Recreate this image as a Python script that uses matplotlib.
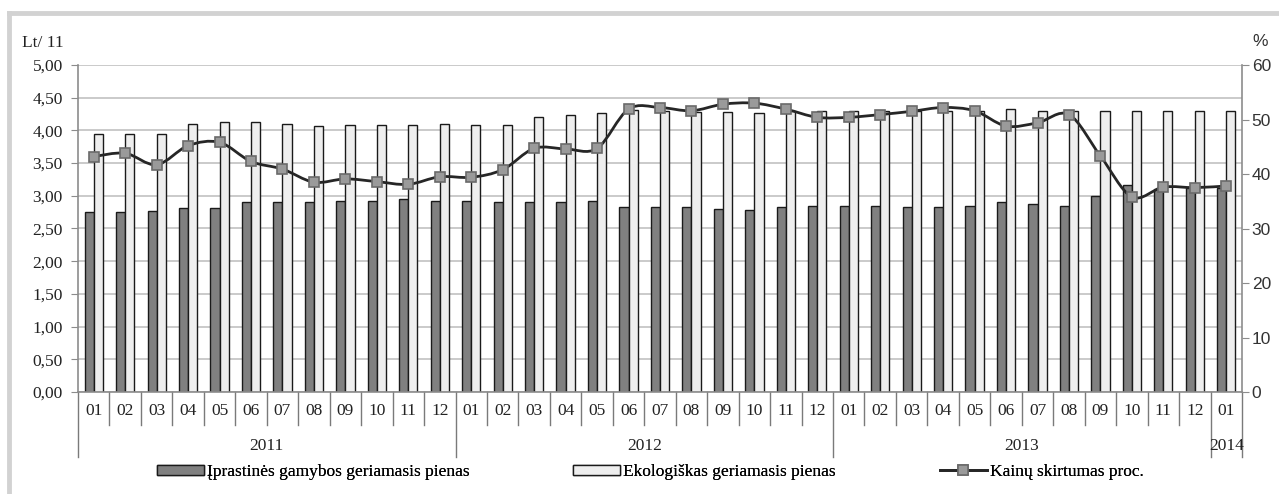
import matplotlib
matplotlib.use('Agg')
import matplotlib.pyplot as plt
import matplotlib.transforms as mtrans
from matplotlib.patches import Patch, PathPatch
from matplotlib.path import Path
from matplotlib.lines import Line2D
import numpy as np

# Data
months = ['01', '02', '03', '04', '05', '06', '07', '08', '09', '10', '11', '12'] * 3 + ['01']
years = ['2011', '2012', '2013', '2014']
year_len = [12, 12, 12, 1]

conv_milk = [2.75, 2.75, 2.77, 2.82, 2.82, 2.90, 2.90, 2.90, 2.92, 2.92, 2.95, 2.92,
             2.92, 2.90, 2.90, 2.90, 2.92, 2.83, 2.83, 2.83, 2.80, 2.78, 2.83, 2.85,
             2.85, 2.85, 2.83, 2.83, 2.85, 2.90, 2.88, 2.85, 3.00, 3.16, 3.10, 3.12,
             3.12]
eco_milk = [3.95, 3.95, 3.95, 4.10, 4.13, 4.13, 4.10, 4.06, 4.08, 4.08, 4.08, 4.10,
            4.08, 4.08, 4.20, 4.23, 4.26, 4.31, 4.30, 4.28, 4.28, 4.26, 4.30, 4.30,
            4.30, 4.30, 4.30, 4.30, 4.30, 4.33, 4.30, 4.30, 4.30, 4.30, 4.30, 4.30,
            4.30]
diff_pct = [43.2, 43.8, 41.7, 45.2, 45.8, 42.3, 40.9, 38.5, 39.1, 38.6, 38.1, 39.5,
            39.4, 40.8, 44.7, 44.6, 44.7, 51.9, 52.2, 51.6, 52.8, 53.0, 51.9, 50.4,
            50.4, 50.9, 51.5, 52.2, 51.6, 48.8, 49.4, 50.9, 43.3, 35.8, 37.6, 37.5,
            37.8]

labels = ['Įprastinės gamybos geriamasis pienas', 'Ekologiškas geriamasis pienas',
          'Kainų skirtumas proc.']

serif = ['Liberation Serif', 'DejaVu Serif']
sans = ['Liberation Sans', 'DejaVu Sans']
plt.rcParams['font.family'] = serif
fs = 12.5

fig = plt.figure(figsize=(12.79, 4.94), dpi=100)
ax = fig.add_axes([78 / 1279, 102 / 494, 1164 / 1279, 327 / 494])

x = np.arange(len(months))
w = 0.29
ax.bar(x - w / 2, conv_milk, w, color='#808080', edgecolor='#1a1a1a', lw=1.0, zorder=2)
ax.bar(x + w / 2, eco_milk, w, color='#eeeeee', edgecolor='#1a1a1a', lw=1.0, zorder=2)

ax.set_xlim(-0.5, len(months) - 0.5)
ax.set_ylim(0, 5)
yt = np.arange(0, 5.01, 0.5)
ax.set_yticks(yt)
ax.set_yticklabels([f'{v:.2f}'.replace('.', ',') for v in yt], fontsize=fs, color='#222222')
ax.grid(axis='y', color='#c6c6c6', lw=1.3)
ax.set_axisbelow(True)
ax.set_xticks(x)
ax.set_xticklabels(months, fontsize=fs, color='#222222')
ax.tick_params(axis='x', length=0, pad=8)
ax.tick_params(axis='y', length=5, color='#8c8c8c', pad=6, direction='out')
for s in ['top', 'right']:
    ax.spines[s].set_visible(False)
for s in ['left', 'bottom']:
    ax.spines[s].set_color('#8c8c8c')
    ax.spines[s].set_linewidth(1.2)

# category and year separators below the axis
trans = mtrans.blended_transform_factory(ax.transData, ax.transAxes)
bounds = np.cumsum([0] + year_len) - 0.5
for b in np.arange(0.5, len(months) - 0.5, 1.0):
    if b in bounds:
        continue
    ax.plot([b, b], [0, -0.101], transform=trans, color='#7a7a7a', lw=1, clip_on=False)
for b in bounds:
    ax.plot([b, b], [0, -0.199], transform=trans, color='#7a7a7a', lw=1, clip_on=False)
for i, yr in enumerate(years):
    xc = (bounds[i] + bounds[i + 1]) / 2
    ax.text(xc, -0.165, yr, transform=trans, ha='center', va='center',
            fontsize=fs, color='#222222')

# secondary axis with smoothed line
ax2 = ax.twinx()
ax2.set_ylim(0, 60)
ax2.set_yticks(range(0, 61, 10))
ax2.set_yticklabels([str(v) for v in range(0, 61, 10)], fontsize=fs, color='#333333',
                    family=sans)
ax2.tick_params(axis='y', length=5, color='#8c8c8c', pad=2)
for s in ['top', 'left', 'bottom']:
    ax2.spines[s].set_visible(False)
ax2.spines['right'].set_color('#8c8c8c')
ax2.spines['right'].set_linewidth(1.2)

pts = np.column_stack([x, diff_pct]).astype(float)
verts = [pts[0]]
codes = [Path.MOVETO]
n = len(pts)
for i in range(n - 1):
    p0 = pts[max(i - 1, 0)]
    p1 = pts[i]
    p2 = pts[i + 1]
    p3 = pts[min(i + 2, n - 1)]
    verts += [p1 + (p2 - p0) / 6, p2 - (p3 - p1) / 6, p2]
    codes += [Path.CURVE4] * 3
ax2.add_patch(PathPatch(Path(verts, codes), fill=False, ec='#262626', lw=2.0, zorder=3))
ax2.plot(x, diff_pct, ls='none', marker='s', ms=6.5, mfc='#9a9a9a', mec='#6a6a6a',
         mew=1.2, zorder=4)

# axis unit labels
fig.text(22 / 1279, 1 - 43 / 494, 'Lt/ 11', fontsize=fs, va='center', ha='left', color='#222222')
fig.text(1252 / 1279, 1 - 41 / 494, '%', fontsize=fs, va='center', ha='left', color='#333333',
         family=sans)

# legend, one entry at a time so positions match
handles = [Patch(facecolor='#808080', edgecolor='#1a1a1a', lw=1.0),
           Patch(facecolor='#eeeeee', edgecolor='#1a1a1a', lw=1.0),
           Line2D([], [], color='#262626', lw=2.0, marker='s', ms=6.5,
                  mfc='#9a9a9a', mec='#6a6a6a', mew=1.2)]
leg_x = [157, 573, 940]
for h, lab, lx in zip(handles, labels, leg_x):
    leg = fig.legend([h], [lab], loc='center left', bbox_to_anchor=(lx / 1279, 1 - 472 / 494),
                     frameon=False, prop={'family': serif, 'size': fs},
                     handlelength=2.7, handleheight=0.55,
                     handletextpad=0.2, borderpad=0, borderaxespad=0)
    fig.add_artist(leg)

# light grey frame around the chart (cut at the bottom and right)
fig.add_artist(Line2D([9 / 1279, 1.0], [1 - 13 / 494, 1 - 13 / 494], transform=fig.transFigure,
                      color='#d2d2d2', lw=3.5))
fig.add_artist(Line2D([9 / 1279, 9 / 1279], [0, 1 - 13 / 494], transform=fig.transFigure,
                      color='#d2d2d2', lw=3.5))

fig.savefig('out.png', dpi=100)
